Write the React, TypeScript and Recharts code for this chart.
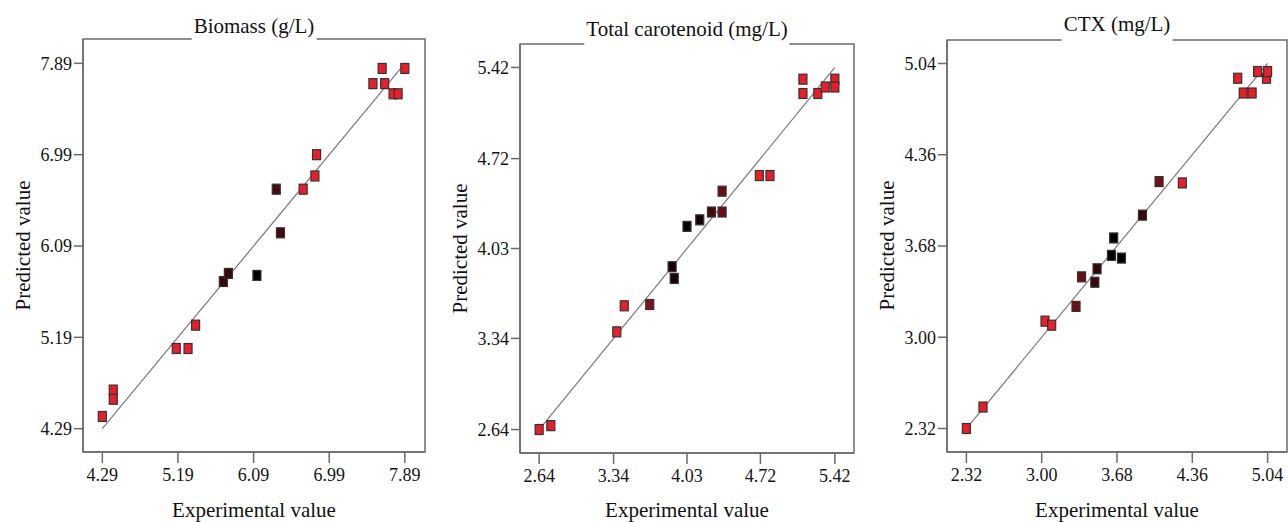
import React from 'react';
import { ScatterChart, Scatter, XAxis, YAxis, ReferenceArea } from 'recharts';

// Biomass (g/L)
const biomassTicks = [4.29, 5.19, 6.09, 6.99, 7.89];
const biomassExp = [4.29, 4.42, 4.42, 5.17, 5.31, 5.4, 5.73, 5.79, 6.13, 6.36, 6.41, 6.68, 6.82, 6.84, 7.51, 7.62, 7.65, 7.75, 7.81, 7.89];
const biomassPred = [4.41, 4.67, 4.58, 5.08, 5.08, 5.31, 5.74, 5.82, 5.8, 6.65, 6.22, 6.65, 6.78, 6.99, 7.69, 7.84, 7.69, 7.59, 7.59, 7.84];
const biomassShade = [0, 0, 0, 0, 0, 0, 0.75, 0.75, 1, 0.7, 0.7, 0, 0, 0, 0, 0, 0, 0, 0, 0];

// Total carotenoid (mg/L)
const caroTicks = [2.64, 3.34, 4.03, 4.72, 5.42];
const caroExp = [2.64, 2.75, 3.37, 3.44, 3.68, 3.89, 3.91, 4.03, 4.15, 4.26, 4.36, 4.36, 4.71, 4.81, 5.12, 5.12, 5.26, 5.33, 5.42, 5.42];
const caroPred = [2.64, 2.67, 3.39, 3.59, 3.6, 3.89, 3.8, 4.2, 4.25, 4.31, 4.31, 4.47, 4.59, 4.59, 5.33, 5.22, 5.22, 5.27, 5.33, 5.27];
const caroShade = [0, 0, 0, 0, 0.45, 0.9, 0.9, 1, 0.9, 0.7, 0.55, 0.55, 0, 0, 0, 0, 0, 0, 0, 0];

// CTX (mg/L)
const ctxTicks = [2.32, 3.0, 3.68, 4.36, 5.04];
const ctxExp = [2.32, 2.47, 3.03, 3.09, 3.31, 3.36, 3.48, 3.5, 3.63, 3.65, 3.72, 3.91, 4.06, 4.27, 4.77, 4.82, 4.9, 4.95, 5.03, 5.04];
const ctxPred = [2.32, 2.48, 3.12, 3.09, 3.23, 3.45, 3.41, 3.51, 3.61, 3.74, 3.59, 3.91, 4.16, 4.15, 4.93, 4.82, 4.82, 4.98, 4.93, 4.98];
const ctxShade = [0, 0, 0, 0, 0.5, 0.55, 0.75, 0.8, 1, 1, 1, 0.75, 0.5, 0, 0, 0, 0, 0, 0, 0];

const FONT = 'Liberation Serif, DejaVu Serif, serif';
const FRAME = '#6b6b6b';

const shadeColor = (s: number) => {
  const k = 1 - s;
  return `rgb(${Math.round(232 * k)},${Math.round(30 * k)},${Math.round(42 * k)})`;
};

const Marker = (props: any) => {
  const { cx, cy, payload } = props;
  if (cx == null || cy == null) return <g />;
  return (
    <rect x={cx - 4} y={cy - 5} width={8} height={10} fill={shadeColor(payload.s)} stroke="#333" strokeWidth={1.2} />
  );
};

type PanelProps = {
  title: string;
  left: number;
  width: number;
  yw: number;
  right: number;
  top: number;
  xh: number;
  domain: [number, number];
  ticks: number[];
  exp: number[];
  pred: number[];
  shade: number[];
  titleTop: number;
};

const Panel: React.FC<PanelProps> = (p) => {
  const data = p.exp.map((x, i) => ({ x, y: p.pred[i], s: p.shade[i] }));
  const lo = p.ticks[0];
  const hi = p.ticks[p.ticks.length - 1];
  const fit = [{ x: lo, y: lo }, { x: hi, y: hi }];
  const boxL = p.yw;
  const boxR = p.width - p.right;
  const boxB = 522 - p.xh;
  const cx = (boxL + boxR) / 2;
  const tickStyle = { fill: '#151515', fontSize: 18, fontFamily: FONT };
  return (
    <div style={{ position: 'absolute', left: p.left, top: 0, width: p.width, height: 522 }}>
      <ScatterChart width={p.width} height={522} margin={{ top: p.top, right: p.right, bottom: 0, left: 0 }}>
        <XAxis
          type="number"
          dataKey="x"
          domain={p.domain}
          ticks={p.ticks}
          interval={0}
          allowDataOverflow
          height={p.xh}
          tickSize={11}
          tickMargin={5}
          stroke={FRAME}
          strokeWidth={1.5}
          tick={tickStyle}
          tickFormatter={(v: number) => v.toFixed(2)}
        />
        <YAxis
          type="number"
          dataKey="y"
          domain={p.domain}
          ticks={p.ticks}
          interval={0}
          allowDataOverflow
          width={p.yw}
          tickSize={9}
          tickMargin={2}
          stroke={FRAME}
          strokeWidth={1.5}
          tick={tickStyle}
          tickFormatter={(v: number) => v.toFixed(2)}
        />
        <ReferenceArea x1={p.domain[0]} x2={p.domain[1]} y1={p.domain[0]} y2={p.domain[1]} fill="none" stroke={FRAME} strokeWidth={1.5} />
        <Scatter data={fit} line={{ stroke: '#7a7a7a', strokeWidth: 1.2 }} shape={() => <g />} isAnimationActive={false} />
        <Scatter data={data} shape={Marker} isAnimationActive={false} />
      </ScatterChart>
      <div
        style={{
          position: 'absolute',
          left: cx,
          top: p.titleTop,
          transform: 'translateX(-50%)',
          background: '#fff',
          padding: '0 2px 8px 2px',
          fontFamily: FONT,
          fontSize: 21,
          lineHeight: '21px',
          whiteSpace: 'nowrap',
          color: '#111',
        }}
      >
        {p.title}
      </div>
      <div
        style={{
          position: 'absolute',
          left: boxL - 60,
          top: (p.top + boxB) / 2 - 11,
          width: 200,
          marginLeft: -100,
          textAlign: 'center',
          transform: 'rotate(-90deg)',
          fontFamily: FONT,
          fontSize: 21,
          lineHeight: '21px',
          whiteSpace: 'nowrap',
          color: '#111',
        }}
      >
        Predicted value
      </div>
      <div
        style={{
          position: 'absolute',
          left: cx - 150,
          top: 500,
          width: 300,
          textAlign: 'center',
          fontFamily: FONT,
          fontSize: 21,
          lineHeight: '21px',
          whiteSpace: 'nowrap',
          color: '#111',
        }}
      >
        Experimental value
      </div>
    </div>
  );
}

export default function App() {
  return (
    <div style={{ position: 'absolute', left: 0, top: 0, width: 1288, height: 522, background: '#fff', overflow: 'hidden' }}>
      <Panel
        title="Biomass (g/L)"
        left={0}
        width={430}
        yw={83}
        right={5}
        top={39}
        xh={70}
        domain={[4.06, 8.13]}
        ticks={biomassTicks}
        exp={biomassExp}
        pred={biomassPred}
        shade={biomassShade}
        titleTop={16}
      />
      <Panel
        title="Total carotenoid (mg/L)"
        left={430}
        width={430}
        yw={90}
        right={6}
        top={44}
        xh={69}
        domain={[2.46, 5.6]}
        ticks={caroTicks}
        exp={caroExp}
        pred={caroPred}
        shade={caroShade}
        titleTop={19}
      />
      <Panel
        title="CTX (mg/L)"
        left={860}
        width={428}
        yw={87}
        right={1}
        top={40}
        xh={70}
        domain={[2.145, 5.215]}
        ticks={ctxTicks}
        exp={ctxExp}
        pred={ctxPred}
        shade={ctxShade}
        titleTop={14}
      />
    </div>
  );
}
